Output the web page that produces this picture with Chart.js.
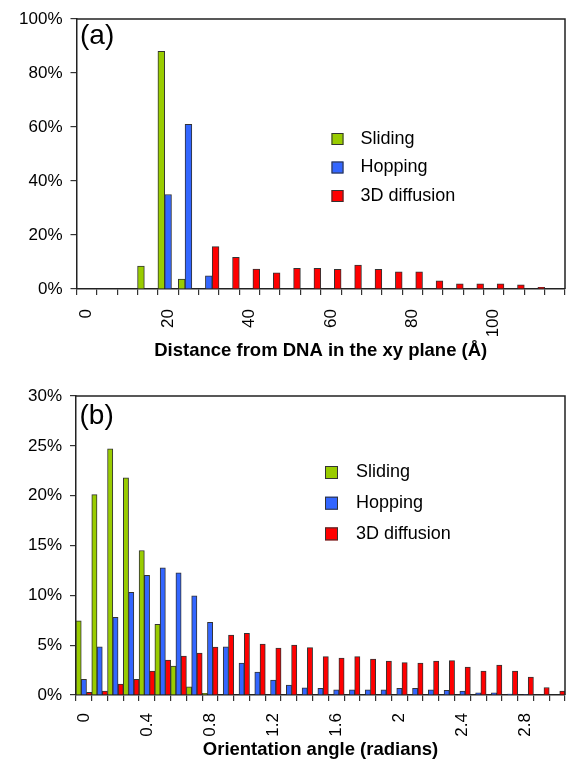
<!DOCTYPE html>
<html>
<head>
<meta charset="utf-8">
<script src="https://cdn.jsdelivr.net/npm/chart.js@4.4.1/dist/chart.umd.min.js"></script>
<style>
  html, body { margin: 0; padding: 0; background: #fff; }
  body { width: 566px; height: 762px; position: relative; overflow: hidden; }
  .panel { position: absolute; left: 0; width: 566px; }
</style>
</head>
<body>
<div class="panel" style="top:0;height:370px"><canvas id="chartA"></canvas></div>
<div class="panel" style="top:376px;height:386px"><canvas id="chartB"></canvas></div>
<script>
// Panel (a): distance from DNA, bins of 5 A
const distanceBins = ['0', '5', '10', '15', '20', '25', '30', '35', '40', '45', '50', '55',
    '60', '65', '70', '75', '80', '85', '90', '95', '100', '105', '110', '115'];
const distanceTicks = ['0', '20', '40', '60', '80', '100'];
const slidingA = [0, 0, 0, 8.5, 88, 3.7, 0, 0, 0, 0, 0, 0, 0, 0, 0, 0, 0, 0, 0, 0, 0, 0, 0, 0];
const hoppingA = [0, 0, 0, 0, 35, 61, 4.9, 0, 0, 0, 0, 0, 0, 0, 0, 0, 0, 0, 0, 0, 0, 0, 0, 0];
const diffusionA = [0, 0, 0, 0, 0, 0, 15.7, 11.7, 7.4, 6.0, 7.7, 7.7, 7.3, 8.9, 7.3, 6.4, 6.4, 3.0,
    1.9, 1.9, 1.9, 1.5, 0.6, 0];

// Panel (b): orientation angle, bins of 0.1 rad
const angleBins = ['0', '0.1', '0.2', '0.3', '0.4', '0.5', '0.6', '0.7', '0.8', '0.9', '1',
    '1.1', '1.2', '1.3', '1.4', '1.5', '1.6', '1.7', '1.8', '1.9', '2', '2.1', '2.2', '2.3',
    '2.4', '2.5', '2.6', '2.7', '2.8', '2.9', '3'];
const angleTicks = ['0', '0.4', '0.8', '1.2', '1.6', '2', '2.4', '2.8'];
const slidingB = [7.45, 20.1, 24.7, 21.8, 14.5, 7.1, 2.9, 0.83, 0.17, 0, 0, 0, 0, 0, 0, 0,
    0, 0, 0, 0, 0, 0, 0, 0, 0, 0, 0, 0, 0, 0, 0];
const hoppingB = [1.57, 4.84, 7.8, 10.3, 12.0, 12.75, 12.25, 9.95, 7.3, 4.84, 3.2, 2.3, 1.5,
    1.0, 0.73, 0.67, 0.53, 0.53, 0.53, 0.53, 0.67, 0.67, 0.53, 0.47, 0.4, 0.23, 0.23, 0.1,
    0.05, 0, 0];
const diffusionB = [0.27, 0.4, 1.1, 1.57, 2.4, 3.5, 3.9, 4.2, 4.8, 6.0, 6.2, 5.1, 4.7, 5.0,
    4.75, 3.85, 3.7, 3.85, 3.6, 3.4, 3.25, 3.2, 3.4, 3.45, 2.8, 2.4, 3.0, 2.4, 1.8, 0.75, 0.4];

const seriesNames = ['Sliding', 'Hopping', '3D diffusion'];
const seriesColors = ['#99cc00', '#3366ff', '#ff0000'];

Chart.defaults.font.family = '"Liberation Sans", Arial, sans-serif';
Chart.defaults.color = '#000';

// frame, panel letter and legend drawn inside the plot area
const panelDecor = {
    id: 'panelDecor',
    afterDraw(chart, args, o) {
        const { ctx, chartArea: a } = chart;
        ctx.save();
        ctx.strokeStyle = '#222';
        ctx.lineWidth = 1.5;
        ctx.beginPath();
        ctx.moveTo(a.left, a.top);
        ctx.lineTo(a.right, a.top);
        ctx.lineTo(a.right, a.bottom);
        ctx.stroke();

        ctx.fillStyle = '#000';
        ctx.textAlign = 'left';
        ctx.textBaseline = 'middle';
        ctx.font = '28px "Liberation Sans"';
        ctx.fillText(o.letter, a.left + 3.5, a.top + o.letterY);

        ctx.font = '18px "Liberation Sans"';
        chart.data.datasets.forEach((ds, i) => {
            const cy = a.top + o.y + i * o.gap;
            const x = a.left + o.x;
            ctx.fillStyle = ds.backgroundColor;
            ctx.fillRect(x, cy - o.box / 2, o.box, o.box);
            ctx.strokeStyle = '#333';
            ctx.lineWidth = 1;
            ctx.strokeRect(x + 0.5, cy - o.box / 2 + 0.5, o.box - 1, o.box - 1);
            ctx.fillStyle = '#000';
            ctx.fillText(ds.label, a.left + o.textX, cy);
        });
        ctx.restore();
    }
};

function makeChart(id, bins, tickLabels, series, cfg) {
    const ctx = document.getElementById(id).getContext('2d');
    return new Chart(ctx, {
        type: 'bar',
        data: {
            labels: bins,
            datasets: series.map((d, i) => ({
                label: seriesNames[i],
                data: d,
                backgroundColor: seriesColors[i],
                borderColor: '#333',
                borderWidth: 1,
                categoryPercentage: 1.0,
                barPercentage: 1.0
            }))
        },
        options: {
            responsive: true,
            maintainAspectRatio: false,
            animation: false,
            layout: { padding: { top: cfg.top, right: 1, left: 0, bottom: 0 } },
            plugins: {
                legend: { display: false },
                tooltip: { enabled: false },
                panelDecor: cfg.decor
            },
            scales: {
                x: {
                    afterFit: s => {
                        s.height = cfg.xHeight;
                        s.paddingLeft = 0;
                        s.paddingRight = 0;
                    },
                    grid: { display: true, drawOnChartArea: false, offset: true, tickLength: 6, color: '#333', lineWidth: 1.2 },
                    border: { display: true, color: '#222', width: 1.5 },
                    ticks: {
                        autoSkip: false, maxRotation: 90, minRotation: 90, padding: cfg.xPad,
                        font: { size: 17 },
                        callback: function (value) {
                            const lab = this.getLabelForValue(value);
                            return tickLabels.includes(lab) ? lab : '';
                        }
                    },
                    title: {
                        display: true, text: cfg.title,
                        font: { size: 18.5, weight: 'bold' },
                        padding: { top: 0, bottom: cfg.titlePad }
                    }
                },
                y: {
                    min: 0, max: cfg.yMax,
                    afterFit: s => { s.width = cfg.yWidth; },
                    grid: { display: true, drawOnChartArea: false, tickLength: 6, color: '#333', lineWidth: 1.2 },
                    border: { display: true, color: '#222', width: 1.5 },
                    ticks: { stepSize: cfg.yStep, padding: 8, font: { size: 17 }, callback: v => v + '%' }
                }
            }
        },
        plugins: [panelDecor]
    });
}

makeChart('chartA', distanceBins, distanceTicks, [slidingA, hoppingA, diffusionA], {
    top: 19, xHeight: 81, xPad: 14, yWidth: 76.5, yMax: 100, yStep: 20, titlePad: 8,
    title: 'Distance from DNA in the xy plane (Å)',
    decor: { letter: '(a)', letterY: 17.5, x: 255, textX: 284, y: 120, gap: 28.5, box: 12 }
});

makeChart('chartB', angleBins, angleTicks, [slidingB, hoppingB, diffusionB], {
    top: 20, xHeight: 67, xPad: 12, yWidth: 76, yMax: 30, yStep: 5, titlePad: 0.5,
    title: 'Orientation angle (radians)',
    decor: { letter: '(b)', letterY: 20.5, x: 249, textX: 280, y: 76.5, gap: 30.7, box: 13 }
});
</script>
</body>
</html>
